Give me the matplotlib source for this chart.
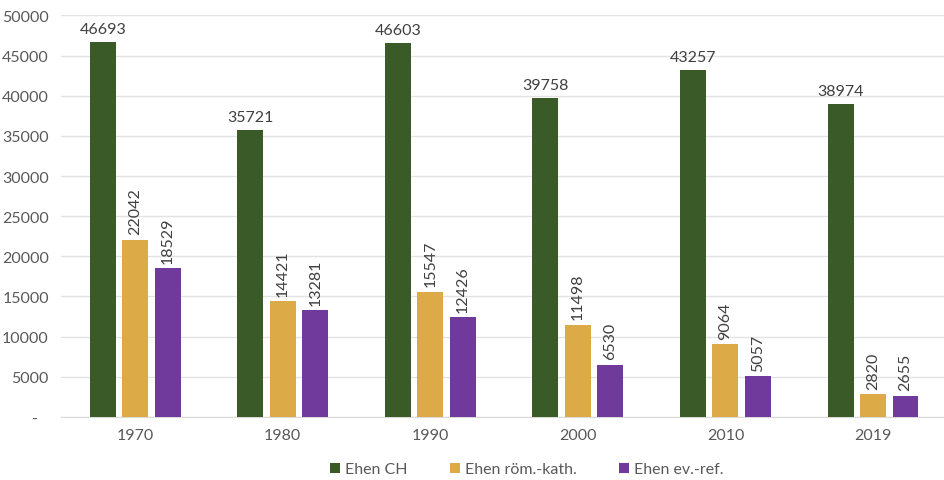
import matplotlib
matplotlib.use("Agg")
import matplotlib.pyplot as plt
import numpy as np
from matplotlib.ticker import FuncFormatter

years = ["1970", "1980", "1990", "2000", "2010", "2019"]
ehen_ch = [46693, 35721, 46603, 39758, 43257, 38974]
ehen_rk = [22042, 14421, 15547, 11498, 9064, 2820]
ehen_er = [18529, 13281, 12426, 6530, 5057, 2655]

series_names = ["Ehen CH", "Ehen röm.-kath.", "Ehen ev.-ref."]
colors = ["#3A5A27", "#DCAA47", "#6F3A9B"]

plt.rcParams["font.family"] = ["Lato", "DejaVu Sans"]
text_col = "#595959"

fig = plt.figure(figsize=(9.44, 4.81), dpi=100)
ax = fig.add_axes([0.065, 0.131, 0.938, 0.835])

x = np.arange(len(years))
w = 0.176
step = 0.22
series = [ehen_ch, ehen_rk, ehen_er]
for i, (vals, c, name) in enumerate(zip(series, colors, series_names)):
    pos = x + (i - 1) * step
    ax.bar(pos, vals, width=w, color=c, label=name, zorder=3)
    for p, v in zip(pos, vals):
        if i == 0:
            ax.text(p, v + 700, str(v), ha="center", va="bottom",
                    fontsize=11.5, color="#404040")
        else:
            ax.text(p, v + 700, str(v), ha="center", va="bottom",
                    rotation=90, fontsize=11.5, color="#404040")

ax.set_xlim(-0.5, len(years) - 0.5)
ax.set_ylim(0, 50000)
ax.set_yticks(np.arange(0, 50001, 5000))
ax.yaxis.set_major_formatter(FuncFormatter(lambda v, _: "-" if v == 0 else f"{int(v)}"))
ax.set_xticks(x)
ax.set_xticklabels(years)
ax.tick_params(axis="both", length=0, labelsize=11.5, colors=text_col)
ax.tick_params(axis="x", pad=8)
ax.tick_params(axis="y", pad=9)
fig.canvas.draw()
for lab in ax.get_yticklabels():
    if lab.get_text() == "-":
        lab.set_x(-0.012)
        lab.set_horizontalalignment("right")
ax.grid(axis="y", color="#E3E3E3", linewidth=1, zorder=0)
for s in ["top", "right", "left"]:
    ax.spines[s].set_visible(False)
ax.spines["bottom"].set_color("#D9D9D9")

leg = fig.legend(loc="lower center", bbox_to_anchor=(0.558, -0.022), ncol=3, frameon=False,
                 fontsize=11.5, handlelength=0.6, handleheight=0.6, handletextpad=0.3,
                 columnspacing=2.7)
for t in leg.get_texts():
    t.set_color(text_col)

fig.savefig("out.png", dpi=100)
